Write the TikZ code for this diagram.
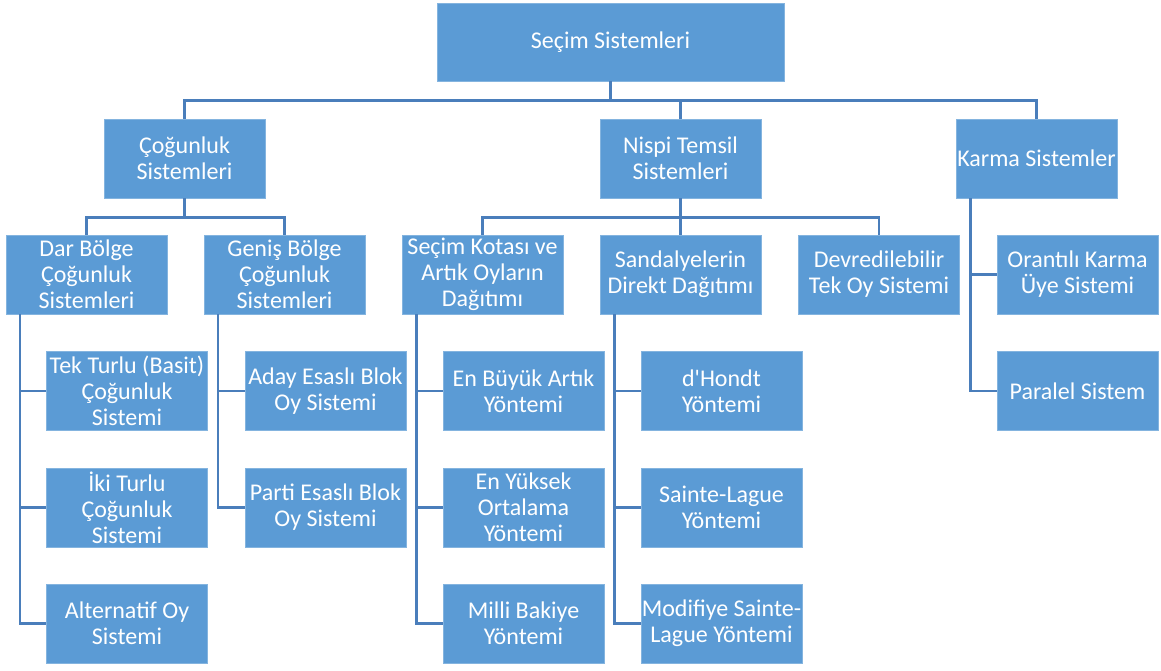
\documentclass[tikz,border=0pt]{standalone}
\usepackage{fontspec}
\setmainfont{Carlito}
\usetikzlibrary{calc}

\definecolor{boxblue}{HTML}{5B9BD5}
\definecolor{linkblue}{HTML}{4A7EBB}

\begin{document}
\begin{tikzpicture}[x=1pt, y=-1pt,
    box/.style={draw=boxblue!75!white, line width=0.8pt, fill=boxblue, text=white, align=center, inner sep=0pt, minimum width=161pt, minimum height=79pt, font=\fontsize{24}{26}\selectfont},
    link/.style={draw=linkblue, line width=2.4pt}]
    \useasboundingbox (0,0) rectangle (1161,670);

    % top level
    \node[box, minimum width=347pt, minimum height=78pt] (secim) at (610.5,42) {Seçim Sistemleri};

    \node[box] (cogunluk) at (184.5,158.5) {Çoğunluk\\Sistemleri};
    \node[box] (nispi) at (680.5,158.5) {Nispi Temsil\\Sistemleri};
    \node[box] (karma) at (1036.5,158.5) {Karma Sistemler};

    % second level
    \node[box] (dar) at (86.5,274.5) {Dar Bölge\\Çoğunluk\\Sistemleri};
    \node[box] (genis) at (284.5,274.5) {Geniş Bölge\\Çoğunluk\\Sistemleri};
    \node[box] (kota) at (482.5,274.5) {Seçim Kotası ve\\Artık Oyların\\Dağıtımı};
    \node[box] (direkt) at (680.5,274.5) {Sandalyelerin\\Direkt Dağıtımı};
    \node[box] (devre) at (879,274.5) {Devredilebilir\\Tek Oy Sistemi};
    \node[box] (orantili) at (1077.5,274.5) {Orantılı Karma\\Üye Sistemi};
    \node[box] (paralel) at (1077.5,391) {Paralel Sistem};

    % third level
    \node[box] (tekturlu) at (127,391) {Tek Turlu (Basit)\\Çoğunluk\\Sistemi};
    \node[box] (ikiturlu) at (127,507.5) {İki Turlu\\Çoğunluk\\Sistemi};
    \node[box] (alternatif) at (127,623.5) {Alternatif Oy\\Sistemi};
    \node[box] (aday) at (325.5,391) {Aday Esaslı Blok\\Oy Sistemi};
    \node[box] (parti) at (325.5,507.5) {Parti Esaslı Blok\\Oy Sistemi};
    \node[box] (buyuk) at (523.5,391) {En Büyük Artık\\Yöntemi};
    \node[box] (yuksek) at (523.5,507.5) {En Yüksek\\Ortalama\\Yöntemi};
    \node[box] (milli) at (523.5,623.5) {Milli Bakiye\\Yöntemi};
    \node[box] (dhondt) at (721.5,391) {d\textquotesingle Hondt\\Yöntemi};
    \node[box] (sainte) at (721.5,507.5) {Sainte-Lague\\Yöntemi};
    \node[box] (modifiye) at (721.5,623.5) {Modifiye Sainte-\\Lague Yöntemi};

    % connectors
    \draw[link] (secim.south) -- ++(0,19) -| (cogunluk.north);
    \draw[link] (secim.south) -- ++(0,19) -| (nispi.north);
    \draw[link] (secim.south) -- ++(0,19) -| (karma.north);

    \draw[link] (cogunluk.south) -- ++(0,19) -| (dar.north);
    \draw[link] (cogunluk.south) -- ++(0,19) -| (genis.north);
    \draw[link] (nispi.south) -- ++(0,19) -| (kota.north);
    \draw[link] (nispi.south) -- ++(0,19) -| (direkt.north);
    \draw[link] (nispi.south) -- ++(0,19) -| (devre.north);

    \draw[link] ([xshift=14.5pt]dar.south west) |- (tekturlu.west);
    \draw[link] ([xshift=14.5pt]dar.south west) |- (ikiturlu.west);
    \draw[link] ([xshift=14.5pt]dar.south west) |- (alternatif.west);
    \draw[link] ([xshift=14.5pt]genis.south west) |- (aday.west);
    \draw[link] ([xshift=14.5pt]genis.south west) |- (parti.west);
    \draw[link] ([xshift=15pt]kota.south west) |- (buyuk.west);
    \draw[link] ([xshift=15pt]kota.south west) |- (yuksek.west);
    \draw[link] ([xshift=15pt]kota.south west) |- (milli.west);
    \draw[link] ([xshift=15pt]direkt.south west) |- (dhondt.west);
    \draw[link] ([xshift=15pt]direkt.south west) |- (sainte.west);
    \draw[link] ([xshift=15pt]direkt.south west) |- (modifiye.west);
    \draw[link] ([xshift=15pt]karma.south west) |- (orantili.west);
    \draw[link] ([xshift=15pt]karma.south west) |- (paralel.west);
  \end{tikzpicture}
\end{document}
